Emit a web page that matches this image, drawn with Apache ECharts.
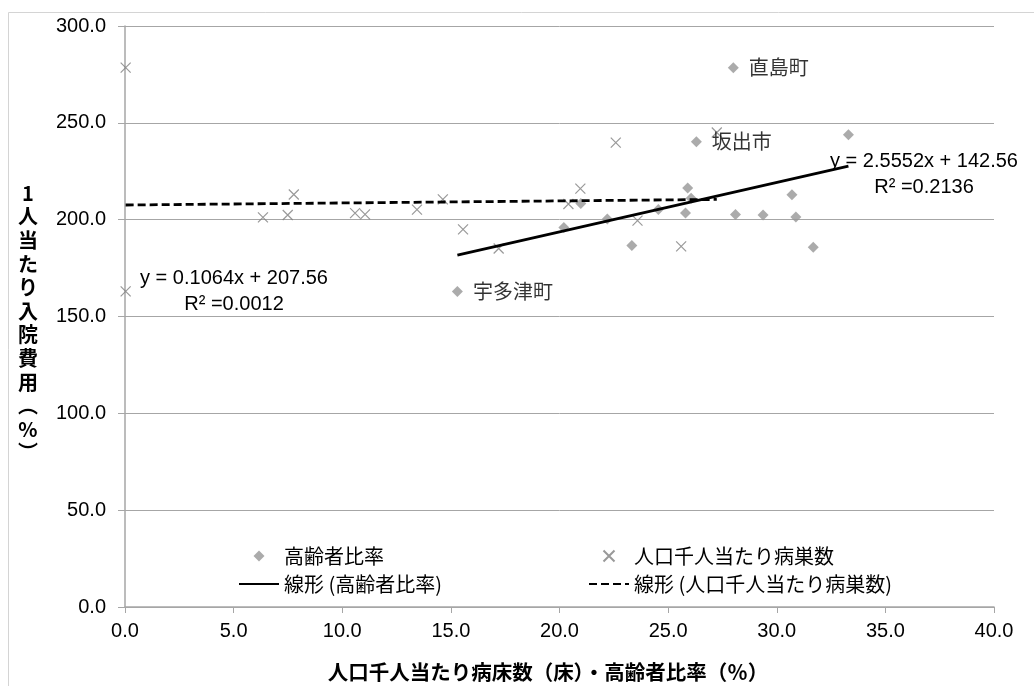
<!DOCTYPE html>
<html>
<head>
<meta charset="utf-8">
<script src="https://cdn.jsdelivr.net/npm/echarts@6/dist/echarts.min.js"></script>
<style>
html,body{margin:0;padding:0;background:#fff;}
#chart{width:1034px;height:686px;}
</style>
</head>
<body>
<div id="chart"></div>
<script>
// 高齢者比率 (%) vs 1人当たり入院費用
const elderlyX = [28.0, 26.3, 15.3, 33.3, 25.9, 26.06, 25.8, 24.55, 23.33, 22.2, 20.2, 20.98, 28.1, 29.37, 30.7, 30.88, 31.68];
const elderlyY = [278.4, 240.2, 162.9, 243.8, 216.3, 211.0, 203.4, 205.2, 186.6, 200.4, 196.0, 208.4, 202.7, 202.4, 212.9, 201.4, 185.7];
const elderlyNames = ['直島町', '坂出市', '宇多津町', '', '', '', '', '', '', '', '', '', '', '', '', '', ''];
// 人口千人当たり病巣数 vs 1人当たり入院費用
const bedsX = [0.03, 0.03, 6.35, 7.49, 7.77, 10.59, 11.05, 13.44, 14.63, 15.56, 17.2, 20.41, 20.96, 22.59, 23.59, 25.6, 27.24];
const bedsY = [278.5, 163.0, 201.2, 202.4, 213.0, 203.4, 202.7, 205.2, 210.5, 195.0, 185.1, 208.1, 216.0, 239.8, 199.5, 186.2, 245.0];
// 近似直線 (線形)
const trendSlopes = [2.5552, 0.1064];
const trendIntercepts = [142.56, 207.56];
const trendR2 = ['0.2136', '0.0012'];
const seriesNames = ['高齢者比率', '人口千人当たり病巣数', '線形 (高齢者比率)', '線形 (人口千人当たり病巣数)'];
const yTicks = [0, 50, 100, 150, 200, 250, 300];
const xTicks = [0, 5, 10, 15, 20, 25, 30, 35, 40];

const numFont = '"Liberation Sans", Arial, sans-serif';
const jpFont = '"Noto Sans CJK JP", sans-serif';
const diamondPath = 'path://M5,0L10,5L5,10L0,5Z';
const crossPath = 'path://M0,0L10,10M10,0L0,10';

function trendLine(xs, i) {
  const lo = Math.min(...xs), hi = Math.max(...xs);
  return [[lo, trendSlopes[i] * lo + trendIntercepts[i]], [hi, trendSlopes[i] * hi + trendIntercepts[i]]];
}

const chart = echarts.init(document.getElementById('chart'));
const gridColor = '#a6a6a6';
const legendBase = {
  orient: 'vertical', top: 541, itemWidth: 40, itemHeight: 11, itemGap: 8,
  symbolKeepAspect: true,
  textStyle: {fontSize: 20, fontFamily: jpFont, color: '#000'}
};
const hiddenSym = {color: 'transparent', borderColor: 'transparent', borderWidth: 0};
chart.setOption({
  animation: false,
  backgroundColor: '#fff',
  grid: {left: 125, right: 40, top: 26, bottom: 79},
  xAxis: {
    type: 'value', min: xTicks[0], max: xTicks[xTicks.length - 1], interval: 5,
    axisLine: {show: true, onZero: false, lineStyle: {color: gridColor, width: 1.5}},
    axisTick: {show: true, length: 6, lineStyle: {color: gridColor, width: 1}},
    splitLine: {show: false},
    axisLabel: {margin: 14, color: '#000', fontSize: 20, fontFamily: numFont, formatter: v => v.toFixed(1)}
  },
  yAxis: {
    type: 'value', min: yTicks[0], max: yTicks[yTicks.length - 1], interval: 50,
    axisLine: {show: true, lineStyle: {color: gridColor, width: 1.5}},
    axisTick: {show: true, length: 7, lineStyle: {color: gridColor, width: 1}},
    splitLine: {show: true, lineStyle: {color: gridColor, width: 1}},
    axisLabel: {margin: 19, color: '#000', fontSize: 20, fontFamily: numFont, formatter: v => v.toFixed(1)}
  },
  legend: [
    Object.assign({}, legendBase, {
      left: 233,
      data: [{name: seriesNames[0], icon: diamondPath}, {name: seriesNames[2], icon: 'inherit', itemStyle: hiddenSym}]
    }),
    Object.assign({}, legendBase, {
      left: 583,
      data: [{name: seriesNames[1], icon: crossPath}, {name: seriesNames[3], icon: 'inherit', itemStyle: hiddenSym}]
    })
  ],
  series: [
    {
      name: seriesNames[0], type: 'scatter', symbol: diamondPath, symbolSize: 11,
      itemStyle: {color: '#969696'},
      data: elderlyX.map((x, i) => ({value: [x, elderlyY[i]], name: elderlyNames[i]})),
      label: {
        show: true, position: 'right', distance: 10, color: '#000', fontSize: 20, fontFamily: jpFont,
        formatter: p => p.data.name
      },
      z: 3
    },
    {
      name: seriesNames[1], type: 'scatter', symbol: crossPath, symbolSize: 10,
      itemStyle: {color: 'transparent', borderColor: '#808080', borderWidth: 1.2},
      data: bedsX.map((x, i) => [x, bedsY[i]]),
      z: 3
    },
    {
      name: seriesNames[2], type: 'line', symbol: 'none', silent: true,
      lineStyle: {color: '#000', width: 2.8, type: 'solid'},
      itemStyle: {color: '#000'},
      data: trendLine(elderlyX, 0), z: 4
    },
    {
      name: seriesNames[3], type: 'line', symbol: 'none', silent: true,
      lineStyle: {color: '#000', width: 2.8, type: [8, 4]},
      itemStyle: {color: '#000'},
      data: trendLine(bedsX, 1), z: 4
    }
  ],
  graphic: [
    {type: 'rect', shape: {x: 8.5, y: 12.5, width: 1200, height: 1000}, style: {fill: 'none', stroke: '#d4d4d4', lineWidth: 1}, z: -1},
    {type: 'text', x: 28, y: 323, style: {
      text: ['1', '人', '当', 'た', 'り', '入', '院', '費', '用', '︵', '%', '︶'].join('\n'),
      align: 'center', verticalAlign: 'middle', lineHeight: 23.6,
      font: 'bold 20px "Noto Sans CJK JP", sans-serif', fill: '#000'}},
    {type: 'text', x: 548, y: 672, style: {
      text: '人口千人当たり病床数（床）・高齢者比率（％）', align: 'center', verticalAlign: 'middle',
      font: 'bold 20.5px "Noto Sans CJK JP", sans-serif', fill: '#000'}},
    {type: 'text', x: 924, y: 174, style: {
      text: 'y = ' + trendSlopes[0] + 'x + ' + trendIntercepts[0] + '\nR² =' + trendR2[0],
      align: 'center', verticalAlign: 'middle', lineHeight: 26,
      font: '20px "Liberation Sans", Arial, sans-serif', fill: '#000'}},
    {type: 'text', x: 234, y: 291.5, style: {
      text: 'y = ' + trendSlopes[1] + 'x + ' + trendIntercepts[1] + '\nR² =' + trendR2[1],
      align: 'center', verticalAlign: 'middle', lineHeight: 26,
      font: '20px "Liberation Sans", Arial, sans-serif', fill: '#000'}}
  ]
});
</script>
</body>
</html>
